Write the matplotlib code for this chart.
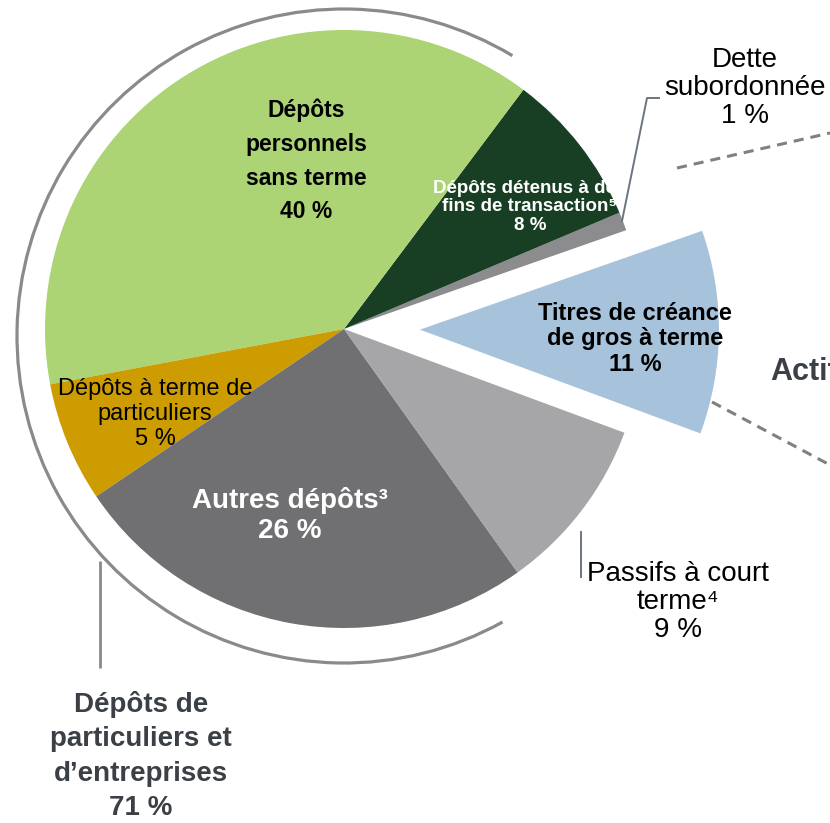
import matplotlib.pyplot as plt
from matplotlib.patches import Arc, Circle

plt.rcParams['font.family'] = ['Liberation Sans', 'DejaVu Sans']

# slices, counterclockwise from the small "Dette subordonnée" wedge
categories = ["Dette subordonnée", "Dépôts détenus à des fins de transaction",
              "Dépôts personnels sans terme", "Dépôts à terme de particuliers",
              "Autres dépôts", "Passifs à court terme", "Titres de créance de gros à terme"]
shares = [1.0, 8.4, 38.2, 6.5, 25.4, 9.5, 11.0]   # wedge sizes as drawn
labels_pct = ["1 %", "8 %", "40 %", "5 %", "26 %", "9 %", "11 %"]  # printed values
group_label = "Dépôts de\nparticuliers et\nd\u2019entreprises\n71 %"
colors = ["#8c8c8e", "#183f23", "#acd474", "#cc9c00", "#707072", "#a6a6a8", "#a7c3db"]
explode = [0, 0, 0, 0, 0, 0, 0.254]

W, H = 830, 823
CX, CY, R = 344, 329, 299   # pie centre / radius in pixels


def P(x, y):
    # image pixel -> data units (pie radius = 1)
    return (x - CX) / R, (CY - y) / R


fig = plt.figure(figsize=(W / 100, H / 100), dpi=100)
ax = fig.add_axes([0, 0, 1, 1])
ax.pie(shares, colors=colors, explode=explode, startangle=19.3,
       counterclock=True, wedgeprops=dict(linewidth=0))
ax.set_aspect('equal')
ax.set_xlim(P(0, 0)[0], P(W, 0)[0])
ax.set_ylim(P(0, H)[1], P(0, 0)[1])
ax.axis('off')

# outer bracket arc around the deposit slices
ac = P(344, 336)
ax.add_patch(Arc(ac, 2 * 327 / R, 2 * 327 / R, theta1=59, theta2=299,
                 color="#8a8a8c", lw=2.3))
x0, y0 = P(100, 561)
x1, y1 = P(100, 668)
ax.plot([x0, x1], [y0, y1], color="#8a8a8c", lw=2.0, solid_capstyle='butt')

# leader lines
lead = "#6b7480"
pts = [P(622, 221), P(647, 98), P(659, 98)]
ax.plot([p[0] for p in pts], [p[1] for p in pts], color=lead, lw=1.4)
pts = [P(581, 532), P(581, 577)]
ax.plot([p[0] for p in pts], [p[1] for p in pts], color=lead, lw=1.4)

# dashed connectors toward the right-hand panel
for a, b in [((677, 168), (830, 133)), ((712, 402), (830, 465))]:
    pa, pb = P(*a), P(*b)
    ax.plot([pa[0], pb[0]], [pa[1], pb[1]], color="#808080", lw=2.2,
            linestyle=(0, (3.3, 2.3)))


def label(x, y, s, size, color="black", bold=False, ls=1.2):
    return ax.text(*P(x, y), s, ha='center', va='center', fontsize=size,
                   color=color, fontweight='bold' if bold else 'normal',
                   linespacing=ls)


label(306, 161, "Dépôts\npersonnels\nsans terme\n" + labels_pct[2], 16.5, bold=True, ls=1.6)
t = label(530, 207, "Dépôts détenus à des\nfins de transaction\u2075\n" + labels_pct[1],
          13.5, color="white", bold=True, ls=1.12)
t.set_clip_on(True)
t.set_clip_path(Circle((0, 0), 1.0, transform=ax.transData))
label(635, 339, "Titres de créance\nde gros à terme\n" + labels_pct[6], 17, bold=True, ls=1.15)
label(155, 414, "Dépôts à terme de\nparticuliers\n" + labels_pct[3], 17, ls=1.15)
label(290, 516, "Autres dépôts\u00b3\n" + labels_pct[4], 20, color="white", bold=True, ls=1.2)
label(678, 602, "Passifs à court\nterme\u2074\n" + labels_pct[5], 20, ls=1.12)
label(745, 88, "Dette\nsubordonnée\n" + labels_pct[0], 20, ls=1.12)
label(141, 756, group_label, 20, color="#3b4046", bold=True, ls=1.42)
ax.text(*P(770, 372), "Actifs", ha='left', va='center', fontsize=22,
        color="#3b4046", fontweight='bold')

fig.savefig("out.png", dpi=100)
